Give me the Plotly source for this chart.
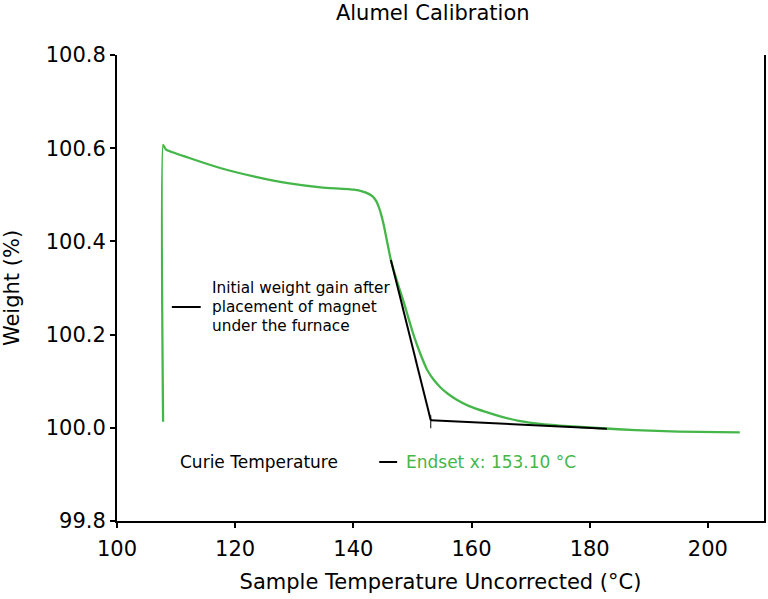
import plotly.graph_objects as go

# Green TGA curve: sample temperature (°C) vs weight (%)
temperature = [107.8, 107.8, 108.3, 112.0, 117.6, 123.3, 128.9, 134.5, 140.1, 141.6, 142.6,
               143.3, 143.9, 144.3, 144.7, 145.2, 146.35, 147.5, 148.6, 149.4, 150.3, 151.3,
               152.5, 153.6, 154.8, 156.0, 157.5, 159.5, 162.4, 165.0, 168.0, 172.0, 176.4,
               182.0, 187.7, 195.0, 205.4]
weight = [100.013, 100.607, 100.597, 100.580, 100.557, 100.539, 100.525, 100.516, 100.511, 100.507, 100.502,
          100.496, 100.486, 100.474, 100.458, 100.432, 100.360, 100.310, 100.267, 100.232, 100.195, 100.160,
          100.124, 100.103, 100.086, 100.073, 100.060, 100.047, 100.034, 100.024, 100.015, 100.008, 100.0035,
          99.999, 99.995, 99.992, 99.990]

# Endset tangent construction
tangent_steep_x = [146.35, 153.10]
tangent_steep_y = [100.360, 100.016]
tangent_flat_x = [153.10, 182.9]
tangent_flat_y = [100.016, 99.998]
endset_mark_x = [153.10, 153.10]
endset_mark_y = [100.027, 99.999]

x_ticks = [100, 120, 140, 160, 180, 200]
y_ticks = [99.8, 100.0, 100.2, 100.4, 100.6, 100.8]
y_tick_labels = ["99.8", "100.0", "100.2", "100.4", "100.6", "100.8"]

GREEN = "#45b649"
FONT = "DejaVu Sans"

fig = go.Figure()
fig.add_trace(go.Scatter(x=temperature, y=weight, mode="lines",
                         line=dict(color=GREEN, width=2.3, shape="spline", smoothing=0.4),
                         showlegend=False))
for xs, ys, w in [(tangent_steep_x, tangent_steep_y, 2), (tangent_flat_x, tangent_flat_y, 2),
                  (endset_mark_x, endset_mark_y, 1)]:
    fig.add_trace(go.Scatter(x=xs, y=ys, mode="lines",
                             line=dict(color="black", width=w), showlegend=False))

fig.update_layout(
    width=768, height=599,
    margin=dict(l=117, r=2, t=55, b=78),
    paper_bgcolor="white", plot_bgcolor="white",
    font=dict(family=FONT, color="black"),
    title=dict(text="Alumel Calibration", x=0.488, xref="paper", xanchor="center",
               y=1 - 13 / 599, yref="container", yanchor="middle",
               font=dict(size=21, family=FONT, color="black")),
)
fig.update_xaxes(range=[100, 209.5], tickvals=x_ticks, showgrid=False, zeroline=False,
                 showline=True, linecolor="black", linewidth=2,
                 ticks="outside", ticklen=5, tickwidth=1.5, tickcolor="black",
                 ticklabelstandoff=3,
                 tickfont=dict(size=21, family=FONT, color="black"),
                 title=dict(text="Sample Temperature Uncorrected (°C)", standoff=14,
                            font=dict(size=21, family=FONT, color="black")))
fig.update_yaxes(range=[99.8, 100.8], tickvals=y_ticks, ticktext=y_tick_labels,
                 showgrid=False, zeroline=False,
                 showline=True, linecolor="black", linewidth=2, mirror=True,
                 ticks="outside", ticklen=5, tickwidth=1.5, tickcolor="black",
                 ticklabelstandoff=0,
                 tickfont=dict(size=21, family=FONT, color="black"),
                 title=dict(text="Weight (%)", standoff=26,
                            font=dict(size=21, family=FONT, color="black")))

# Annotation key dashes (paper-pixel placement)
def px_x(p):
    return (p - 117) / 649
def px_y(p):
    return (521 - p) / 466

fig.add_shape(type="line", xref="paper", yref="paper",
              x0=px_x(172), x1=px_x(201), y0=px_y(307), y1=px_y(307),
              line=dict(color="black", width=2))
fig.add_shape(type="line", xref="paper", yref="paper",
              x0=px_x(380), x1=px_x(398), y0=px_y(462), y1=px_y(462),
              line=dict(color="black", width=2))

note_lines = ["Initial weight gain after", "placement of magnet", "under the furnace"]
for i, line in enumerate(note_lines):
    fig.add_annotation(xref="paper", yref="paper", x=px_x(210), y=px_y(288 + 19 * i),
                       xanchor="left", yanchor="middle", showarrow=False, text=line,
                       font=dict(size=15.3, family=FONT, color="black"))
fig.add_annotation(xref="paper", yref="paper", x=px_x(178), y=px_y(462),
                   xanchor="left", yanchor="middle", showarrow=False, text="Curie Temperature",
                   font=dict(size=17, family=FONT, color="black"))
fig.add_annotation(xref="paper", yref="paper", x=px_x(405), y=px_y(462),
                   xanchor="left", yanchor="middle", showarrow=False, text="Endset x: 153.10 °C",
                   font=dict(size=17, family=FONT, color=GREEN))

fig.write_html("out.html", config={"displayModeBar": False},
               post_script="document.body.style.margin='0';document.body.style.overflow='hidden';")
